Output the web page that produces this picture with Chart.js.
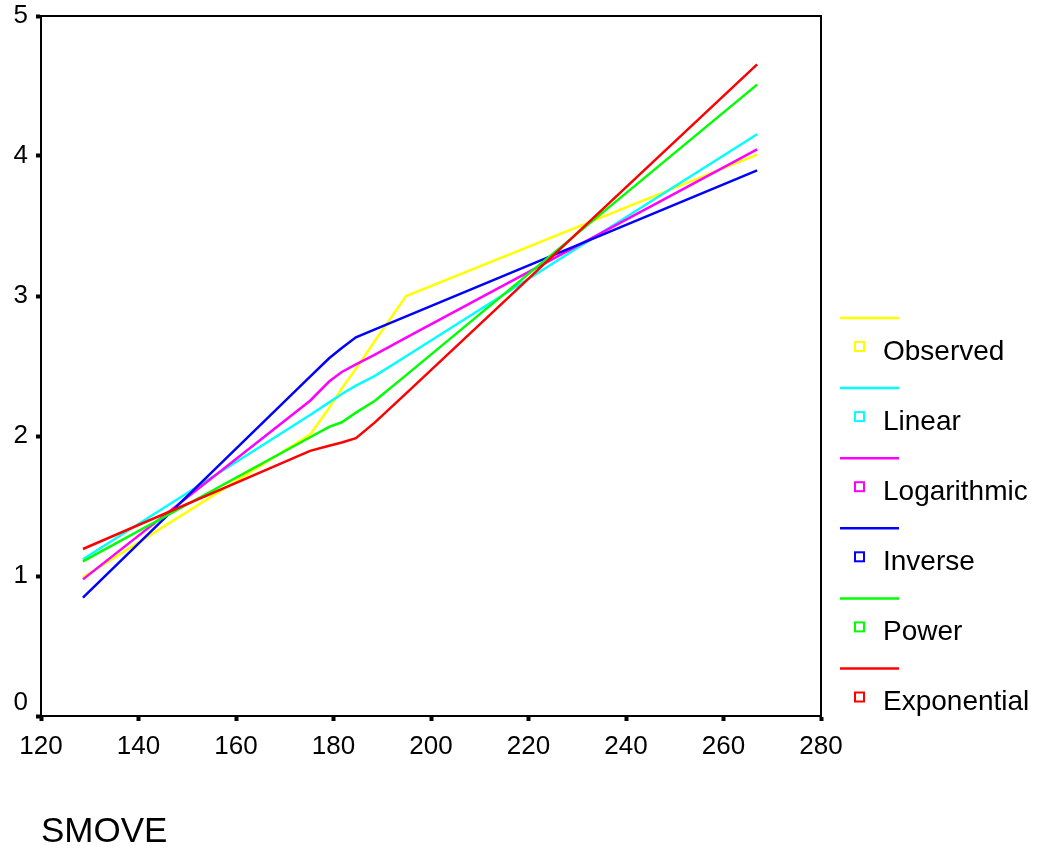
<!DOCTYPE html>
<html>
<head>
<meta charset="utf-8">
<title>SMOVE curve fit</title>
<script src="https://cdn.jsdelivr.net/npm/chart.js@4.4.1/dist/chart.umd.min.js"></script>
<style>
    html, body { margin: 0; padding: 0; background: #fff; }
    #wrap { position: relative; width: 1038px; height: 852px; }
</style>
</head>
<body>
<div id="wrap"><canvas id="fit"></canvas></div>
<script>
// values
var smove = [128.6, 175.2, 179.1, 181.7, 184.6, 188.5, 194.9, 266.9];
var observed = [0.99, 2.01, 2.20, 2.34, 2.48, 2.68, 3.00, 4.01];
var linear = [1.12, 2.15, 2.24, 2.30, 2.36, 2.43, 2.57, 4.155];
var logarithmic = [0.976, 2.252, 2.389, 2.457, 2.512, 2.582, 2.703, 4.047];
var inverse = [0.845, 2.424, 2.555, 2.628, 2.705, 2.762, 2.854, 3.897];
var power = [1.105, 1.991, 2.065, 2.098, 2.167, 2.252, 2.435, 4.51];
var exponential = [1.193, 1.894, 1.930, 1.954, 1.985, 2.097, 2.305, 4.655];

var seriesNames = ['Observed', 'Linear', 'Logarithmic', 'Inverse', 'Power', 'Exponential'];
var seriesValues = [observed, linear, logarithmic, inverse, power, exponential];
var seriesColors = ['#ffff00', '#00ffff', '#ff00ff', '#0000ff', '#00ff00', '#ff0000'];

var FONT = 'Arial, "Liberation Sans", Helvetica, sans-serif';

(function () {
    function points(vals) {
        return vals.map(function (v, i) {
            return { x: smove[i], y: v };
        });
    }

    var datasets = seriesNames.map(function (name, i) {
        return {
            label: name,
            data: points(seriesValues[i]),
            borderColor: seriesColors[i],
            backgroundColor: seriesColors[i],
            borderWidth: 2.5,
            pointRadius: 0,
            tension: 0,
            fill: false,
            order: seriesNames.length - i,
        };
    });

    // frame, the lifted "0" and the stacked legend on the right
    var extras = {
        id: 'extras',
        afterDraw: function (chart) {
            var ctx = chart.ctx;
            var a = chart.chartArea;
            ctx.save();
            ctx.strokeStyle = '#000';
            ctx.lineWidth = 2;
            ctx.strokeRect(a.left, a.top, a.right - a.left, a.bottom - a.top);

            ctx.fillStyle = '#000';
            ctx.font = '26px ' + FONT;
            ctx.textAlign = 'right';
            ctx.textBaseline = 'middle';
            ctx.fillText('0', 28, chart.scales.y.getPixelForValue(0) - 13);

            var top = 318;
            var step = 70.1;
            ctx.font = '28px ' + FONT;
            ctx.textAlign = 'left';
            chart.data.datasets.forEach(function (ds, i) {
                var y = top + i * step;
                ctx.strokeStyle = ds.borderColor;
                ctx.lineWidth = 2.5;
                ctx.beginPath();
                ctx.moveTo(840, y);
                ctx.lineTo(899, y);
                ctx.stroke();
                ctx.lineWidth = 2;
                ctx.strokeRect(855, y + 24, 9, 9);
                ctx.fillStyle = '#000';
                ctx.fillText(ds.label, 883, y + 34);
            });
            ctx.restore();
        },
    };

    new Chart(document.getElementById('fit'), {
        type: 'line',
        data: { datasets: datasets },
        options: {
            responsive: true,
            maintainAspectRatio: false,
            animation: false,
            events: [],
            layout: { padding: { top: 16, right: 217, left: 0, bottom: 0 } },
            plugins: {
                legend: { display: false },
                tooltip: { enabled: false },
            },
            scales: {
                x: {
                    type: 'linear',
                    min: 120,
                    max: 280,
                    ticks: {
                        stepSize: 20,
                        color: '#000',
                        padding: 10,
                        maxRotation: 0,
                        font: { family: FONT, size: 26 },
                    },
                    grid: {
                        drawOnChartArea: false,
                        drawTicks: true,
                        tickLength: 5,
                        tickWidth: 4,
                        tickColor: '#000',
                    },
                    border: { display: true, color: '#000', width: 2 },
                    title: {
                        display: true,
                        text: 'SMOVE',
                        align: 'start',
                        color: '#000',
                        padding: { top: 0, bottom: 0 },
                        font: { family: FONT, size: 35, lineHeight: 1.1 },
                    },
                    afterFit: function (scale) {
                        scale.height = 136;
                        scale.paddingLeft = 0;
                        scale.paddingRight = 0;
                    },
                },
                y: {
                    type: 'linear',
                    min: 0,
                    max: 5,
                    ticks: {
                        stepSize: 1,
                        color: '#000',
                        padding: 8,
                        font: { family: FONT, size: 26 },
                        callback: function (v) {
                            return v === 0 ? '' : v;
                        },
                    },
                    grid: {
                        drawOnChartArea: false,
                        drawTicks: true,
                        tickLength: 5,
                        tickWidth: 4,
                        tickColor: '#000',
                    },
                    border: { display: true, color: '#000', width: 2 },
                    afterFit: function (scale) {
                        scale.width = 41;
                        scale.paddingTop = 0;
                        scale.paddingBottom = 0;
                    },
                },
            },
        },
        plugins: [extras],
    });
})();
</script>
</body>
</html>
